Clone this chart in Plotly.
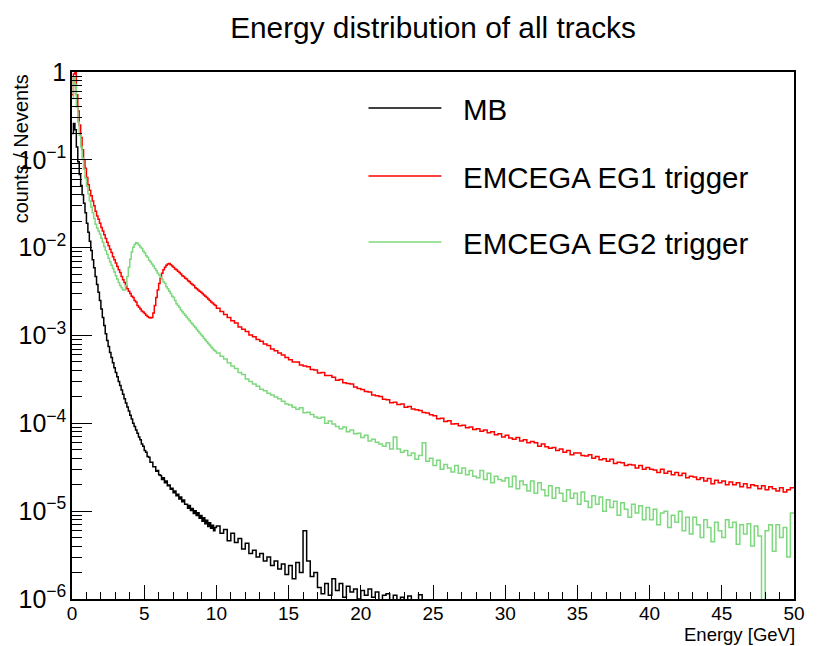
import plotly.graph_objects as go

# ---------------- data ----------------
# Histogram binning: 0.1 GeV bins from 0 to 10 GeV, 0.25 GeV bins above 10 GeV
fine_width, coarse_width, fine_end = 0.1, 0.25, 10.0
x_range = [0, 50]
series_names = ["MB", "EMCEGA EG1 trigger", "EMCEGA EG2 trigger"]
series_colors = ["#000000", "#ff0000", "#7ed87e"]

# ---- MB ----
mb_fine = [  # 0 - 10 GeV
    0.2, 0.26, 0.22, 0.14, 0.095, 0.068, 0.051, 0.04, 0.032, 0.025,
    0.019, 0.015, 0.0118, 0.0093, 0.0073, 0.0059, 0.0047, 0.0038, 0.0031, 0.0025,
    0.002, 0.0016, 0.0013, 0.00105, 0.00088, 0.00075, 0.00064, 0.00056, 0.00049, 0.00043,
    0.00038, 0.00034, 0.0003, 0.00027, 0.00024, 0.000215, 0.00019, 0.00017, 0.000153, 0.000138,
    0.000124, 0.000112, 0.0001, 9.2e-5, 8.4e-5, 7.7e-5, 7.0e-5, 6.5e-5, 5.8e-5, 5.5e-5,
    4.9e-5, 4.7e-5, 4.2e-5, 4.1e-5, 3.6e-5, 3.6e-5, 3.2e-5, 3.2e-5, 2.85e-5, 2.9e-5,
    2.6e-5, 2.55e-5, 2.3e-5, 2.4e-5, 2.1e-5, 2.2e-5, 1.95e-5, 1.98e-5, 1.78e-5, 1.82e-5,
    1.62e-5, 1.7e-5, 1.5e-5, 1.56e-5, 1.38e-5, 1.45e-5, 1.28e-5, 1.34e-5, 1.2e-5, 1.2e-5,
    1.08e-5, 1.16e-5, 1.02e-5, 1.07e-5, 9.4e-6, 1.01e-5, 8.9e-6, 9.6e-6, 8.3e-6, 8.9e-6,
    7.7e-6, 8.4e-6, 7.2e-6, 7.9e-6, 6.7e-6, 7.4e-6, 6.4e-6, 6.9e-6, 6.0e-6, 6.5e-6,
]
mb_coarse = [  # 10 - 25 GeV
    6.8e-6, 5.6e-6, 6.2e-6, 4.6e-6, 5.6e-6, 4.4e-6, 4.9e-6, 3.7e-6, 4.3e-6, 3.3e-6,
    3.6e-6, 3.0e-6, 3.3e-6, 2.7e-6, 3.0e-6, 2.4e-6, 2.7e-6, 2.2e-6, 2.5e-6, 1.9e-6,
    2.4e-6, 1.7e-6, 2.6e-6, 2.0e-6, 6.0e-6, 2.7e-6, 1.8e-6, 2.0e-6, 1.35e-6, 1.15e-6,
    1.5e-6, 1.1e-6, 1.7e-6, 1.25e-6, 1.5e-6, 1.05e-6, 1.4e-6, 1.2e-6, 1.3e-6, 1.0e-6,
    1.25e-6, 1.1e-6, 1.3e-6, 1.05e-6, 1.2e-6, 0, 1.1e-6, 1.15e-6, 0, 1.1e-6,
    0, 1.05e-6, 0, 1.08e-6, 0, 0, 1.12e-6, 0, 0, 0,
]

# ---- EMCEGA EG1 trigger ----
eg1_fine = [  # 0 - 10 GeV
    0.55, 0.95, 0.98, 0.55, 0.36, 0.25, 0.18, 0.13, 0.1, 0.08,
    0.063, 0.052, 0.045, 0.039, 0.034, 0.03, 0.026, 0.023, 0.021, 0.019,
    0.017, 0.0155, 0.014, 0.0127, 0.0115, 0.0105, 0.0096, 0.0088, 0.0079, 0.0073,
    0.0067, 0.0061, 0.0056, 0.0052, 0.0047, 0.0043, 0.004, 0.0037, 0.0034, 0.0032,
    0.003, 0.0028, 0.0027, 0.0025, 0.0024, 0.0022, 0.0021, 0.002, 0.0019, 0.00185,
    0.00178, 0.0017, 0.00165, 0.0016, 0.00158, 0.0016, 0.0018, 0.0022, 0.0027, 0.0033,
    0.0039, 0.0045, 0.0051, 0.0056, 0.006, 0.0063, 0.0065, 0.0066, 0.0064, 0.0062,
    0.006, 0.0057, 0.0056, 0.0054, 0.0052, 0.005, 0.0048, 0.0047, 0.0045, 0.0044,
    0.0042, 0.0041, 0.0039, 0.0038, 0.0037, 0.0035, 0.0034, 0.0033, 0.0032, 0.0031,
    0.003, 0.0029, 0.0028, 0.0027, 0.0026, 0.0025, 0.0024, 0.00235, 0.00226, 0.00219,
]
eg1_coarse = [  # 10 - 50 GeV
    0.00204, 0.00187, 0.00173, 0.0016, 0.00147, 0.00139, 0.00125, 0.00118, 0.00111, 0.00101,
    0.00097, 0.0009, 0.00086, 0.0008, 0.00077, 0.0007, 0.00067, 0.00063, 0.0006, 0.00056,
    5.3e-4, 5.0e-4, 5.0e-4, 4.6e-4, 4.5e-4, 4.4e-4, 4.1e-4, 4.05e-4, 3.75e-4, 3.8e-4,
    3.5e-4, 3.5e-4, 3.35e-4, 3.1e-4, 3.15e-4, 2.9e-4, 2.85e-4, 2.8e-4, 2.6e-4, 2.5e-4,
    2.42e-4, 2.3e-4, 2.28e-4, 2.1e-4, 2.06e-4, 2.02e-4, 1.88e-4, 1.86e-4, 1.72e-4, 1.74e-4,
    1.64e-4, 1.66e-4, 1.52e-4, 1.55e-4, 1.46e-4, 1.43e-4, 1.4e-4, 1.33e-4, 1.31e-4, 1.25e-4,
    1.22e-4, 1.13e-4, 1.14e-4, 1.05e-4, 1.07e-4, 9.8e-5, 9.9e-5, 9.4e-5, 9.5e-5, 8.9e-5,
    9.1e-5, 8.5e-5, 8.7e-5, 8.1e-5, 8.4e-5, 7.8e-5, 8.0e-5, 7.4e-5, 7.6e-5, 7.0e-5,
    7.3e-5, 6.8e-5, 6.6e-5, 6.9e-5, 6.3e-5, 6.5e-5, 6.0e-5, 6.2e-5, 6.0e-5, 5.5e-5,
    5.8e-5, 5.4e-5, 5.2e-5, 5.3e-5, 4.9e-5, 5.1e-5, 4.7e-5, 4.9e-5, 4.4e-5, 4.6e-5,
    4.6e-5, 4.3e-5, 4.25e-5, 4.4e-5, 4.0e-5, 4.2e-5, 3.85e-5, 3.95e-5, 3.7e-5, 3.9e-5,
    3.5e-5, 3.6e-5, 3.55e-5, 3.3e-5, 3.4e-5, 3.35e-5, 3.1e-5, 3.3e-5, 3.0e-5, 3.15e-5,
    3.0e-5, 2.95e-5, 2.75e-5, 3.0e-5, 2.7e-5, 2.85e-5, 2.6e-5, 2.75e-5, 2.55e-5, 2.7e-5,
    2.4e-5, 2.5e-5, 2.45e-5, 2.3e-5, 2.4e-5, 2.2e-5, 2.35e-5, 2.05e-5, 2.25e-5, 2.1e-5,
    2.2e-5, 2.0e-5, 2.15e-5, 2.0e-5, 2.1e-5, 1.9e-5, 2.05e-5, 1.85e-5, 2.0e-5, 1.95e-5,
    1.8e-5, 1.95e-5, 1.75e-5, 1.9e-5, 1.8e-5, 1.7e-5, 1.85e-5, 1.65e-5, 1.75e-5, 1.85e-5,
]

# ---- EMCEGA EG2 trigger ----
eg2_fine = [  # 0 - 10 GeV
    0.5, 0.88, 0.72, 0.4, 0.27, 0.19, 0.14, 0.105, 0.078, 0.062,
    0.05, 0.041, 0.034, 0.029, 0.025, 0.0215, 0.0185, 0.0168, 0.0155, 0.0143,
    0.0128, 0.0115, 0.0103, 0.0093, 0.0084, 0.0076, 0.0069, 0.0063, 0.0058, 0.0053,
    0.0048, 0.0044, 0.004, 0.0037, 0.0035, 0.0033, 0.0033, 0.0037, 0.0047, 0.006,
    0.0074, 0.0089, 0.0101, 0.0109, 0.0114, 0.0112, 0.0107, 0.0102, 0.0098, 0.0091,
    0.0087, 0.0081, 0.0078, 0.0072, 0.0069, 0.0065, 0.0062, 0.0058, 0.0055, 0.0051,
    0.0049, 0.0046, 0.0044, 0.0041, 0.0039, 0.0036, 0.0034, 0.0032, 0.003, 0.0028,
    0.0027, 0.0025, 0.0023, 0.0022, 0.0021, 0.00195, 0.00186, 0.00178, 0.0017, 0.00162,
    0.00155, 0.00148, 0.00141, 0.00135, 0.00129, 0.00123, 0.00117, 0.00112, 0.00107, 0.00102,
    0.00098, 0.00093, 0.00089, 0.00085, 0.00081, 0.00078, 0.00074, 0.00071, 0.00068, 0.00066,
]
eg2_coarse = [  # 10 - 50 GeV
    6.3e-4, 5.8e-4, 5.4e-4, 4.9e-4, 4.5e-4, 4.2e-4, 3.8e-4, 3.6e-4, 3.2e-4, 3.0e-4,
    2.8e-4, 2.65e-4, 2.45e-4, 2.35e-4, 2.2e-4, 2.1e-4, 2.0e-4, 1.9e-4, 1.78e-4, 1.66e-4,
    1.62e-4, 1.52e-4, 1.45e-4, 1.5e-4, 1.32e-4, 1.34e-4, 1.26e-4, 1.18e-4, 1.14e-4, 1.17e-4,
    1.0e-4, 1.06e-4, 9.8e-5, 9.2e-5, 8.7e-5, 9.1e-5, 8.0e-5, 8.4e-5, 7.6e-5, 7.7e-5,
    6.9e-5, 7.3e-5, 6.3e-5, 6.6e-5, 6.1e-5, 5.8e-5, 5.5e-5, 6.0e-5, 5.1e-5, 7.0e-5,
    5.1e-5, 4.7e-5, 4.9e-5, 4.3e-5, 4.6e-5, 3.9e-5, 4.3e-5, 6.0e-5, 3.7e-5, 4.0e-5,
    3.3e-5, 3.8e-5, 3.0e-5, 3.4e-5, 3.1e-5, 2.8e-5, 3.3e-5, 2.7e-5, 3.1e-5, 2.6e-5,
    2.9e-5, 2.5e-5, 2.4e-5, 2.9e-5, 2.3e-5, 2.7e-5, 2.1e-5, 2.5e-5, 2.3e-5, 2.2e-5,
    2.4e-5, 1.9e-5, 2.5e-5, 1.8e-5, 2.2e-5, 2.0e-5, 1.7e-5, 2.2e-5, 1.6e-5, 2.1e-5,
    1.75e-5, 1.5e-5, 1.95e-5, 1.4e-5, 1.85e-5, 1.6e-5, 1.3e-5, 1.75e-5, 1.4e-5, 1.6e-5,
    1.2e-5, 1.65e-5, 1.3e-5, 1.1e-5, 1.5e-5, 1.2e-5, 1.45e-5, 1.0e-5, 1.35e-5, 1.1e-5,
    1.3e-5, 9.0e-6, 1.25e-5, 1.05e-5, 8.5e-6, 1.2e-5, 9.5e-6, 1.15e-5, 8.0e-6, 1.1e-5,
    8.0e-6, 1.05e-5, 7.0e-6, 9.5e-6, 1.0e-5, 6.5e-6, 9.0e-6, 7.5e-6, 1.0e-5, 6.0e-6,
    8.5e-6, 5.5e-6, 8.5e-6, 7.0e-6, 5.0e-6, 8.0e-6, 6.5e-6, 4.5e-6, 7.5e-6, 6.0e-6,
    5.0e-6, 8.0e-6, 6.5e-6, 7.5e-6, 4.2e-6, 7.0e-6, 5.5e-6, 7.2e-6, 4.0e-6, 6.8e-6,
    5.2e-6, 0, 6.0e-6, 7.0e-6, 3.5e-6, 7.0e-6, 5.0e-6, 6.5e-6, 3.0e-6, 9.5e-6,
]

FONT = "Liberation Sans, Arial, Helvetica, sans-serif"

# plot-area geometry in pixels (for the hand-placed legend / axis titles)
W, H = 817, 646
L, R, T, B = 72, 12, 72, 47
PW, PH = W - L - R, H - T - B


def px_x(px):
    return (px - L) / PW


def px_y(py):
    return (H - B - py) / PH


def step_xy(fine_vals, coarse_vals):
    """Histogram outline: bin low edges + final edge, drawn as an 'hv' step."""
    edges = [round(i * fine_width, 3) for i in range(len(fine_vals))]
    edges += [round(fine_end + i * coarse_width, 3) for i in range(len(coarse_vals) + 1)]
    vals = list(fine_vals) + list(coarse_vals)
    ys = [v if v > 0 else 1e-12 for v in vals]  # empty bins fall below the axis
    return edges, ys + [ys[-1]]


fig = go.Figure()
data = [(mb_fine, mb_coarse), (eg1_fine, eg1_coarse), (eg2_fine, eg2_coarse)]
for name, (fv, cv), col in zip(series_names, data, series_colors):
    xs, ys = step_xy(fv, cv)
    fig.add_trace(go.Scatter(
        x=xs, y=ys, mode="lines", name=name, showlegend=False,
        line=dict(color=col, width=1.5, shape="hv"),
    ))

fig.update_layout(
    width=W, height=H,
    margin=dict(l=L, r=R, t=T, b=B),
    paper_bgcolor="white", plot_bgcolor="white",
    font=dict(family=FONT, color="black"),
    title=dict(text="Energy distribution of all tracks", x=0.5, xref="paper",
               y=1 - 28 / H, yref="container", xanchor="center", yanchor="middle",
               font=dict(size=29.8, family=FONT)),
)

fig.update_xaxes(
    range=x_range, showgrid=False, zeroline=False,
    showline=True, linecolor="black", linewidth=1.5, mirror=True,
    ticks="inside", ticklen=14, tickwidth=1, tickcolor="black", dtick=5,
    minor=dict(ticks="inside", ticklen=7, dtick=1, tickwidth=1, tickcolor="black"),
    tickfont=dict(size=19, family=FONT), ticklabelstandoff=-4,
)
fig.update_yaxes(
    type="log", range=[-6, 0], showgrid=False, zeroline=False,
    showline=True, linecolor="black", linewidth=1.5, mirror=True,
    ticks="inside", ticklen=20, tickwidth=1, tickcolor="black", dtick=1,
    exponentformat="power", showexponent="all",
    minor=dict(ticks="inside", ticklen=10, dtick="D1", tickwidth=1, tickcolor="black"),
    tickfont=dict(size=20, family=FONT),
)

# axis titles (ROOT style: right / top aligned)
fig.add_annotation(text="Energy [GeV]", xref="paper", yref="paper",
                   x=px_x(807), y=px_y(646), xanchor="right", yanchor="bottom",
                   borderpad=0, showarrow=False, font=dict(size=18.5, family=FONT))
fig.add_annotation(text="counts / Nevents", xref="paper", yref="paper",
                   x=px_x(20), y=px_y(72), xanchor="center", yanchor="top",
                   textangle=-90, showarrow=False, font=dict(size=20, family=FONT))

# legend (ROOT TLegend look: long line samples, no border)
legend_rows_y = [108, 176, 242]
for name, col, ry in zip(series_names, series_colors, legend_rows_y):
    fig.add_shape(type="line", xref="paper", yref="paper",
                  x0=px_x(373), x1=px_x(447), y0=px_y(ry), y1=px_y(ry),
                  line=dict(color=col, width=1.5))
    fig.add_annotation(text=name, xref="paper", yref="paper",
                       x=px_x(467), y=px_y(ry + 1), xanchor="left", yanchor="middle",
                       showarrow=False, font=dict(size=29.5, family=FONT))

fig.write_html("out.html")
